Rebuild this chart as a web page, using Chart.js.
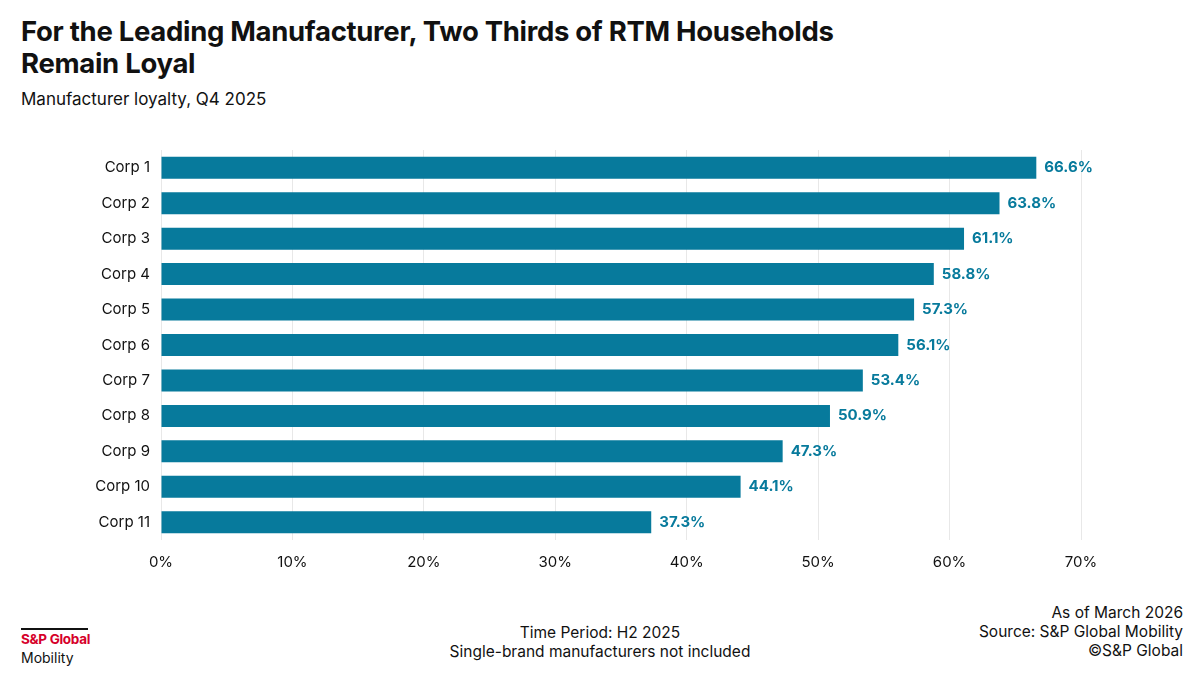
<!DOCTYPE html>
<html>
<head>
<meta charset="utf-8">
<script src="https://cdn.jsdelivr.net/npm/chart.js@4"></script>
<style>
  body { margin: 0; width: 1200px; height: 676px; background: #fff; font-family: Inter, "Noto Sans", sans-serif; color: #111; overflow: hidden; position: relative; }
  #title { position: absolute; left: 21px; top: 15px; font-size: 27.5px; font-weight: 700; line-height: 32px; letter-spacing: -0.3px; }
  #subtitle { position: absolute; left: 21px; top: 89px; font-size: 17px; }
  #wrap { position: absolute; left: 0; top: 130px; width: 1200px; height: 450px; }
  .foot { position: absolute; font-size: 15.5px; line-height: 19px; }
  #logo { left: 21px; top: 628px; font-size: 14px; }
  #logo .bar { width: 67px; height: 2px; background: #111; margin-bottom: 1px; }
  #logo .red { color: #d6002a; font-weight: 700; font-size: 13.5px; letter-spacing: -0.3px; line-height: 17px; }
  #center { left: 0; width: 1200px; top: 623px; text-align: center; }
  #right { right: 17px; top: 603px; text-align: right; }
</style>
</head>
<body>
<div id="title">For the Leading Manufacturer, Two Thirds of RTM Households<br>Remain Loyal</div>
<div id="subtitle">Manufacturer loyalty, Q4 2025</div>
<div id="wrap"><canvas id="chart"></canvas></div>
<div class="foot" id="logo"><div class="bar"></div><div class="red">S&amp;P Global</div><div>Mobility</div></div>
<div class="foot" id="center">Time Period: H2 2025<br>Single-brand manufacturers not included</div>
<div class="foot" id="right">As of March 2026<br>Source: S&amp;P Global Mobility<br>©S&amp;P Global</div>
<script>
const corps = ["Corp 1", "Corp 2", "Corp 3", "Corp 4", "Corp 5", "Corp 6", "Corp 7", "Corp 8", "Corp 9", "Corp 10", "Corp 11"];
const loyalty = [66.6, 63.8, 61.1, 58.8, 57.3, 56.1, 53.4, 50.9, 47.3, 44.1, 37.3];

const teal = "#077a9c";

// draw the value labels at the end of each bar
const valueLabels = {
  id: "valueLabels",
  afterDatasetsDraw(chart) {
    const ctx = chart.ctx;
    const meta = chart.getDatasetMeta(0);
    ctx.save();
    ctx.font = "700 15px Inter, sans-serif";
    ctx.fillStyle = teal;
    ctx.textBaseline = "middle";
    meta.data.forEach((bar, i) => {
      ctx.fillText(loyalty[i].toFixed(1) + "%", bar.x + 8, bar.y);
    });
    ctx.restore();
  }
};

new Chart(document.getElementById("chart"), {
  type: "bar",
  data: {
    labels: corps,
    datasets: [{
      data: loyalty,
      backgroundColor: teal,
      barPercentage: 0.62,
      categoryPercentage: 1
    }]
  },
  options: {
    indexAxis: "y",
    responsive: true,
    maintainAspectRatio: false,
    animation: false,
    layout: { padding: { top: 8, right: 119 } },
    plugins: { legend: { display: false }, tooltip: { enabled: false } },
    scales: {
      x: {
        min: 0, max: 70,
        ticks: { stepSize: 10, callback: v => v + "%", color: "#111", font: { size: 15, family: "Inter" }, padding: 13 },
        grid: { color: "#e8e8e8", drawTicks: false },
        border: { display: false },
        afterFit: s => { s.height = 40; }
      },
      y: {
        ticks: { color: "#111", font: { size: 15, family: "Inter" }, padding: 11 },
        grid: { display: false, drawTicks: false },
        border: { display: false },
        afterFit: s => { s.width = 161; }
      }
    }
  },
  plugins: [valueLabels]
});
</script>
</body>
</html>
